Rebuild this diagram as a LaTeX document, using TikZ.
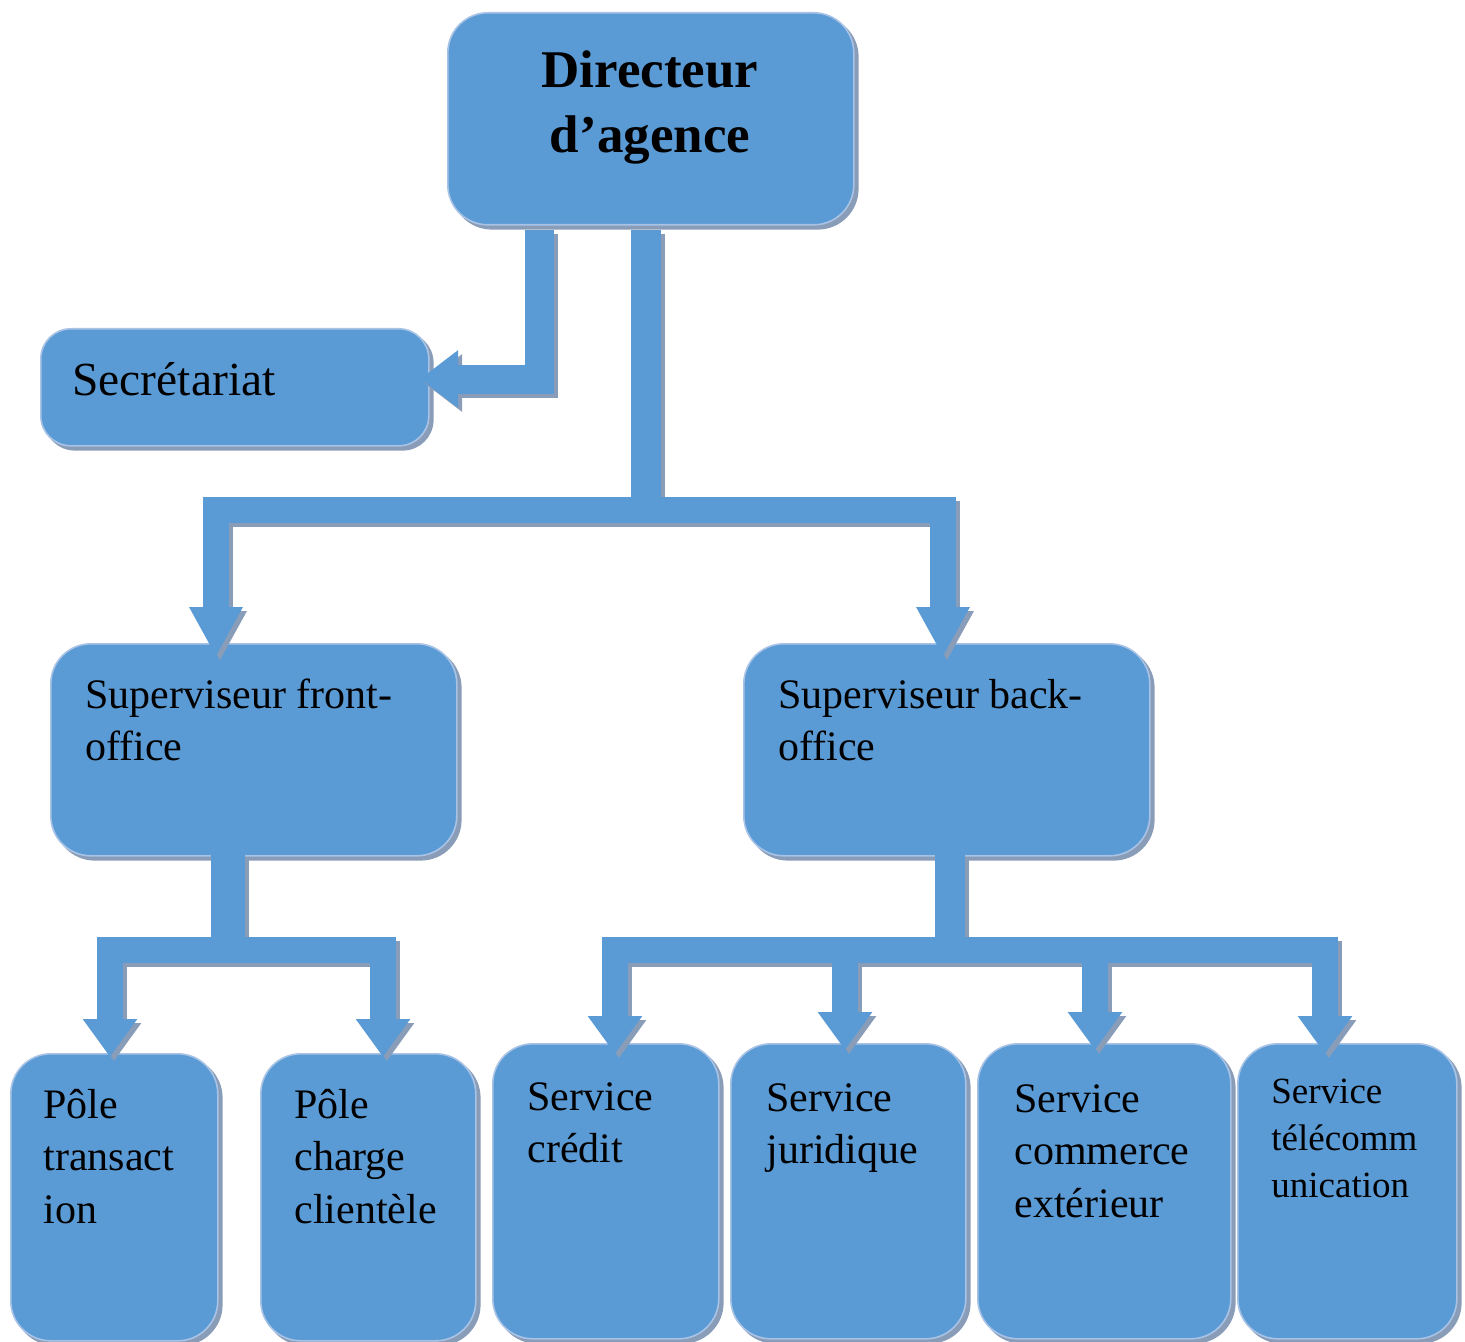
\documentclass[tikz,border=0pt]{standalone}
\usepackage{fontspec}
\setmainfont{Liberation Serif}
\usetikzlibrary{arrows.meta,calc}
\definecolor{boxblue}{HTML}{5B9BD5}
\definecolor{shadowcol}{HTML}{8A9DB8}
\definecolor{edgecol}{HTML}{A8C3E5}
\newcommand\regfont{\fontsize{21}{26.25}\selectfont}
\newcommand\drawconns[1]{%
  % Secretariat
  \draw[#1, line width=14.5pt, sechead] (s0) |- (sTip);
  % main tree
  \draw[#1, line width=15pt] (m0) -- (mJ);
  \draw[#1, line width=13.25pt, mhead] (mJ) -| (tF);
  \draw[#1, line width=13.25pt, mhead] (mJ) -| (tB);
  % front tree
  \draw[#1, line width=17pt] (f0) -- (fJ);
  \draw[#1, line width=13pt, bhead] (fJ) -| (tP1);
  \draw[#1, line width=13pt, bhead] (fJ) -| (tP2);
  % back tree
  \draw[#1, line width=15pt] (b0) -- (bJ);
  \draw[#1, line width=13pt, bhead] (bJ) -| (tS1);
  \draw[#1, line width=13pt, bhead] (bJ) -| (tS2);
  \draw[#1, line width=13pt, bhead] (bJ) -| (tS3);
  \draw[#1, line width=13pt, bhead] (bJ) -| (tS4);
}
\tikzset{
  box/.style={rectangle, fill=boxblue, draw=edgecol, line width=0.8pt,
    rounded corners=#1, inner sep=0pt, anchor=north west,
    preaction={fill=shadowcol, draw=shadowcol, transform canvas={shift={(2pt,-2pt)}}}},
  box/.default=20pt,
  lbl/.style={anchor=north west, inner sep=0pt, align=left, text=black},
  conncommon/.style={line join=miter, line cap=butt},
  shadowconn/.style={conncommon, draw=shadowcol, transform canvas={shift={(2pt,-2pt)}}},
  fillconn/.style={conncommon, draw=boxblue},
  mhead/.style={-{Triangle[width=25pt,length=25pt]}},
  bhead/.style={-{Triangle[width=26pt,length=19pt]}},
  sechead/.style={-{Triangle[width=27.5pt,length=19pt]}},
}
\begin{document}
\begin{tikzpicture}[x=0.5pt,y=-0.5pt]
\useasboundingbox (0,0) rectangle (1465,1342);
% boxes
\node[box, minimum width=203pt, minimum height=106pt] (dir) at (447,12) {};
\node[box=15pt, minimum width=194pt, minimum height=58.5pt] (sec) at (40,328) {};
\node[box, minimum width=203pt, minimum height=106pt] (front) at (50,643) {};
\node[box, minimum width=203pt, minimum height=106pt] (back) at (743,643) {};
\node[box, minimum width=103.5pt, minimum height=143.5pt] (pt) at (10,1053) {};
\node[box, minimum width=107.5pt, minimum height=143.5pt] (pc) at (260,1053) {};
\node[box, minimum width=113pt, minimum height=147.5pt] (sc) at (492,1043) {};
\node[box, minimum width=117.5pt, minimum height=147.5pt] (sj) at (730,1043) {};
\node[box, minimum width=126.5pt, minimum height=147.5pt] (sce) at (977,1043) {};
\node[box, minimum width=109.5pt, minimum height=147.5pt] (st) at (1237,1043) {};
% labels
\node[lbl, align=center, anchor=north, font=\fontsize{26.5}{32.5}\selectfont\bfseries] (dirT) at (650,42) {\strut Directeur\\d’agence};
\node[lbl, font=\fontsize{23.75}{28.5}\selectfont] (secT) at (72,355) {\strut Secrétariat};
\node[lbl, font=\regfont] (frontT) at (85,671) {\strut Superviseur front-\\office};
\node[lbl, font=\regfont] (backT) at (778,671) {\strut Superviseur back-\\office};
\node[lbl, font=\regfont] (ptT) at (43,1081) {\strut Pôle\\transact\\ion};
\node[lbl, font=\regfont] (pcT) at (294,1081) {\strut Pôle\\charge\\clientèle};
\node[lbl, font=\regfont] (scT) at (527,1073) {\strut Service\\crédit};
\node[lbl, font=\regfont] (sjT) at (766,1074) {\strut Service\\juridique};
\node[lbl, font=\regfont] (sceT) at (1014,1075) {\strut Service\\commerce\\extérieur};
\node[lbl, font=\fontsize{18.5}{23.5}\selectfont] (stT) at (1271,1070) {\strut Service\\télécomm\\unication};
% connector points
\coordinate (s0) at (539,230);
\coordinate (sTip) at (420,379);
\coordinate (m0) at (646,230);
\coordinate (mJ) at (646,510);
\coordinate (tF) at (216,657);
\coordinate (tB) at (943,657);
\coordinate (f0) at (228,853);
\coordinate (fJ) at (228,950);
\coordinate (tP1) at (110,1057);
\coordinate (tP2) at (383,1057);
\coordinate (b0) at (950,853);
\coordinate (bJ) at (950,950);
\coordinate (tS1) at (615,1054);
\coordinate (tS2) at (845,1050);
\coordinate (tS3) at (1095,1050);
\coordinate (tS4) at (1325,1054);
\drawconns{shadowconn}
\drawconns{fillconn}
\end{tikzpicture}
\end{document}
